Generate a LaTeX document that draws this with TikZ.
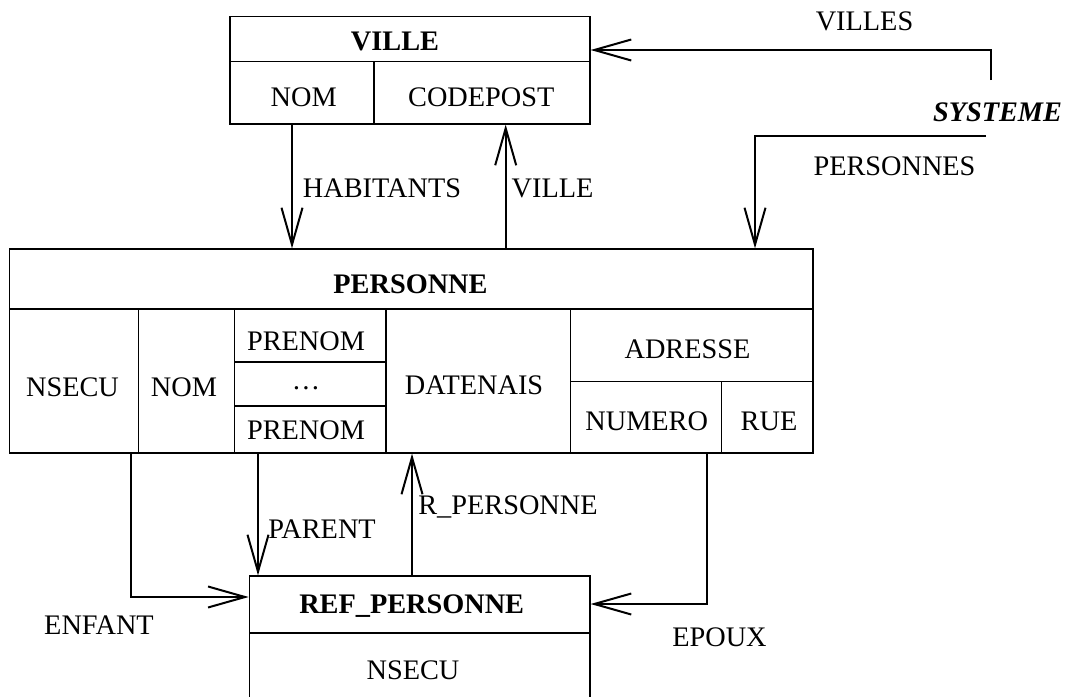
\documentclass[tikz,border=0pt]{standalone}
\usepackage{fontspec}
\setmainfont{Liberation Serif}
\usetikzlibrary{arrows.meta}
\begin{document}
\begin{tikzpicture}[x=1pt,y=-1pt,
  font=\fontsize{28.3}{34}\selectfont,
  box/.style={draw, line width=1.2pt, rectangle, inner sep=0pt},
  cell/.style={line width=1.2pt},
  txt/.style={anchor=base, inner sep=0pt},
  conn/.style={line width=2pt, -{Straight Barb[length=37pt,width=21pt]}}]
\useasboundingbox (0,0) rectangle (1065,696);
\clip (0,0) rectangle (1065,696);
% boxes
\node[box, minimum width=360pt, minimum height=107.3pt] (ville) at (410,70.35) {};
\node[box, minimum width=803.5pt, minimum height=204pt] (pers) at (411.25,351) {};
\node[box, minimum width=340.7pt, minimum height=140pt] (ref) at (419.65,646) {};
% VILLE cells
\draw[cell] (230,61.7) -- (590,61.7);
\draw[cell] (374,61.7) -- (374,124);
% PERSONNE cells
\draw[cell] (9.5,309) -- (813,309);
\draw[cell] (138.7,309) -- (138.7,453);
\draw[cell] (234.7,309) -- (234.7,453);
\draw[cell] (386,309) -- (386,453);
\draw[cell] (570.7,309) -- (570.7,453);
\draw[cell] (234.7,362) -- (386,362);
\draw[cell] (234.7,406) -- (386,406);
\draw[cell] (570.7,381.7) -- (813,381.7);
\draw[cell] (721.7,381.7) -- (721.7,453);
% REF cells
\draw[cell] (249.3,633) -- (590,633);
% texts
\node[txt] (tville) at (395,50) {\bfseries VILLE};
\node[txt] (tvnom) at (303.7,106) {NOM};
\node[txt] (tcp) at (481.3,106) {CODEPOST};
\node[txt] (tpers) at (410.5,293) {\bfseries PERSONNE};
\node[txt] (tnsecu) at (72.5,396) {NSECU};
\node[txt] (tnom) at (184,396) {NOM};
\node[txt] (tpre1) at (306,350.7) {PRENOM};
\node[txt] (tdots) at (306,389) {\dots};
\node[txt] (tpre2) at (306,439) {PRENOM};
\node[txt] (tdate) at (474,394) {DATENAIS};
\node[txt] (tadr) at (687.5,358.3) {ADRESSE};
\node[txt] (tnum) at (646.7,430) {NUMERO};
\node[txt] (true) at (769,430) {RUE};
\node[txt] (tref) at (411.7,613) {\bfseries REF\_PERSONNE};
\node[txt] (trnsecu) at (413,679) {NSECU};
\node[txt] (sys) at (997.5,121.7) {\bfseries\itshape SYSTEME};
% connector labels
\node[txt] (lvilles) at (864.5,30.7) {VILLES};
\node[txt] (lpersonnes) at (894.5,175) {PERSONNES};
\node[txt] (lhab) at (382,197) {HABITANTS};
\node[txt] (lville) at (552.5,197) {VILLE};
\node[txt] (lparent) at (322,538) {PARENT};
\node[txt] (lrp) at (508,514) {R\_PERSONNE};
\node[txt] (lenfant) at (99,634) {ENFANT};
\node[txt] (lepoux) at (719.5,646) {EPOUX};
% x positions of connectors
\coordinate (xhab) at (292,0);
\coordinate (xvil) at (505.7,0);
\coordinate (xenf) at (131,0);
\coordinate (xpar) at (258,0);
\coordinate (xrp) at (412,0);
\coordinate (xep) at (707,0);
\coordinate (xpp) at (755,0);
\coordinate (sA) at (991,80);
\coordinate (sB) at (986,136);
\coordinate (yvilles) at (0,50);
\coordinate (yenf) at (0,597);
\coordinate (yep) at (0,604);
% connectors
\draw[conn] (ville.south -| xhab) -- (pers.north -| xhab);
\draw[conn] (pers.north -| xvil) -- (ville.south -| xvil);
\draw[conn] (sA) |- (ville.east |- yvilles);
\draw[conn] (sB) -| (pers.north -| xpp);
\draw[conn] (pers.south -| xenf) |- (ref.west |- yenf);
\draw[conn] (pers.south -| xpar) -- (ref.north -| xpar);
\draw[conn] (ref.north -| xrp) -- (pers.south -| xrp);
\draw[conn] (pers.south -| xep) |- (ref.east |- yep);
\end{tikzpicture}
\end{document}
